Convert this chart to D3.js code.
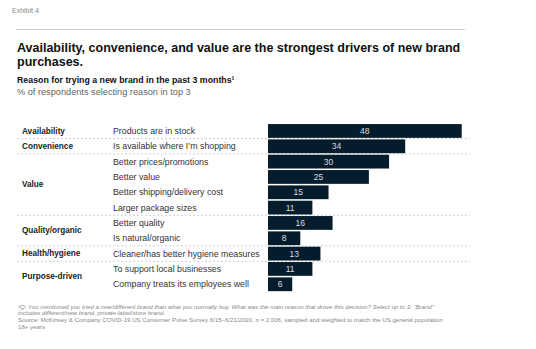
<!DOCTYPE html>
<html>
<head>
<meta charset="utf-8">
<script src="https://cdn.jsdelivr.net/npm/d3@7"></script>
<style>
  body { margin: 0; background: #fff; }
  svg { font-family: "Liberation Sans", Arial, sans-serif; }
</style>
</head>
<body>
<svg id="chart" width="536" height="349"></svg>
<script>
// data
var reasons = [
  "Products are in stock",
  "Is available where I\u2019m shopping",
  "Better prices/promotions",
  "Better value",
  "Better shipping/delivery cost",
  "Larger package sizes",
  "Better quality",
  "Is natural/organic",
  "Cleaner/has better hygiene measures",
  "To support local businesses",
  "Company treats its employees well"
];
var values = [48, 34, 30, 25, 15, 11, 16, 8, 13, 11, 6];
var groups = ["Availability", "Convenience", "Value", "Quality/organic", "Health/hygiene", "Purpose-driven"];
var groupSizes = [1, 1, 4, 2, 1, 2];

var footnotes = [
  "\u00b9Q: You mentioned you tried a new/different brand than what you normally buy. What was the main reason that drove this decision? Select up to 3. \u201cBrand\u201d",
  " includes different/new brand, private-label/store brand.",
  "Source: McKinsey & Company COVID-19 US Consumer Pulse Survey 6/15\u20136/21/2020, n = 2,006, sampled and weighted to match the US general population",
  "18+ years"
];

var svg = d3.select("#chart");
var navy = "#051c2c";

svg.append("text").attr("x", 12).attr("y", 13)
  .style("font-size", "7px").style("fill", "#888").text("Exhibit 4");

svg.append("line").attr("x1", 16).attr("x2", 465).attr("y1", 29.5).attr("y2", 29.5)
  .style("stroke", "#d0d0d0").style("stroke-width", 1);

var title = svg.append("text").attr("x", 17).attr("y", 51.5)
  .style("font-size", "12.5px").style("font-weight", 700).style("fill", "#111");
title.append("tspan").attr("x", 17).text("Availability, convenience, and value are the strongest drivers of new brand");
title.append("tspan").attr("x", 17).attr("dy", 14.5).text("purchases.");

svg.append("text").attr("x", 17).attr("y", 83)
  .style("font-size", "8.8px").style("font-weight", 700).style("fill", "#111")
  .text("Reason for trying a new brand in the past 3 months\u00b9");
svg.append("text").attr("x", 17).attr("y", 94.5)
  .style("font-size", "9.2px").style("fill", "#666")
  .text("% of respondents selecting reason in top 3");

// scales
var y = d3.scaleBand()
  .domain(d3.range(reasons.length))
  .range([123.3, 123.3 + 15.33 * reasons.length])
  .paddingInner(0.1)
  .paddingOuter(0.05);

var x = d3.scaleLinear().domain([0, 48]).range([268, 461.7]);

// group separators
var starts = [];
var acc = 0;
groupSizes.forEach(function (n) { starts.push(acc); acc += n; });

var sepY = starts.slice(1).map(function (s) {
  return y(s) - y.step() * y.paddingInner() / 2;
});

svg.selectAll(".sep").data(sepY).enter().append("line")
  .attr("class", "sep")
  .attr("x1", 17).attr("x2", 470)
  .attr("y1", function (d) { return d; }).attr("y2", function (d) { return d; })
  .style("stroke", "#c4c4c4").style("stroke-width", 0.8)
  .style("stroke-dasharray", "2,2");

// group labels
svg.selectAll(".grp").data(groups).enter().append("text")
  .attr("class", "grp")
  .attr("x", 22)
  .attr("y", function (d, i) {
    var top = y(starts[i]);
    var bot = y(starts[i] + groupSizes[i] - 1) + y.bandwidth();
    return (top + bot) / 2;
  })
  .attr("dy", "0.35em")
  .style("font-size", "8.2px").style("font-weight", 700).style("fill", "#222")
  .text(function (d) { return d; });

// reason labels
svg.selectAll(".reason").data(reasons).enter().append("text")
  .attr("class", "reason")
  .attr("x", 113)
  .attr("y", function (d, i) { return y(i) + y.bandwidth() / 2; })
  .attr("dy", "0.35em")
  .style("font-size", "8.8px").style("fill", "#333")
  .text(function (d) { return d; });

// bars
svg.selectAll(".bar").data(values).enter().append("rect")
  .attr("class", "bar")
  .attr("x", x(0))
  .attr("y", function (d, i) { return y(i); })
  .attr("width", function (d) { return x(d) - x(0); })
  .attr("height", y.bandwidth())
  .style("fill", navy);

svg.selectAll(".val").data(values).enter().append("text")
  .attr("class", "val")
  .attr("x", function (d) { return (x(0) + x(d)) / 2; })
  .attr("y", function (d, i) { return y(i) + y.bandwidth() / 2; })
  .attr("dy", "0.35em")
  .style("text-anchor", "middle")
  .style("font-size", "8.5px").style("fill", "#d8dde2")
  .text(function (d) { return d; });

// footnotes
svg.selectAll(".foot").data(footnotes).enter().append("text")
  .attr("class", "foot")
  .attr("x", 18)
  .attr("y", function (d, i) { return 308.5 + i * 6.8; })
  .style("font-size", "6.1px")
  .style("font-style", function (d, i) { return i < 2 ? "italic" : "normal"; })
  .style("fill", "#888")
  .text(function (d) { return d; });
</script>
</body>
</html>
